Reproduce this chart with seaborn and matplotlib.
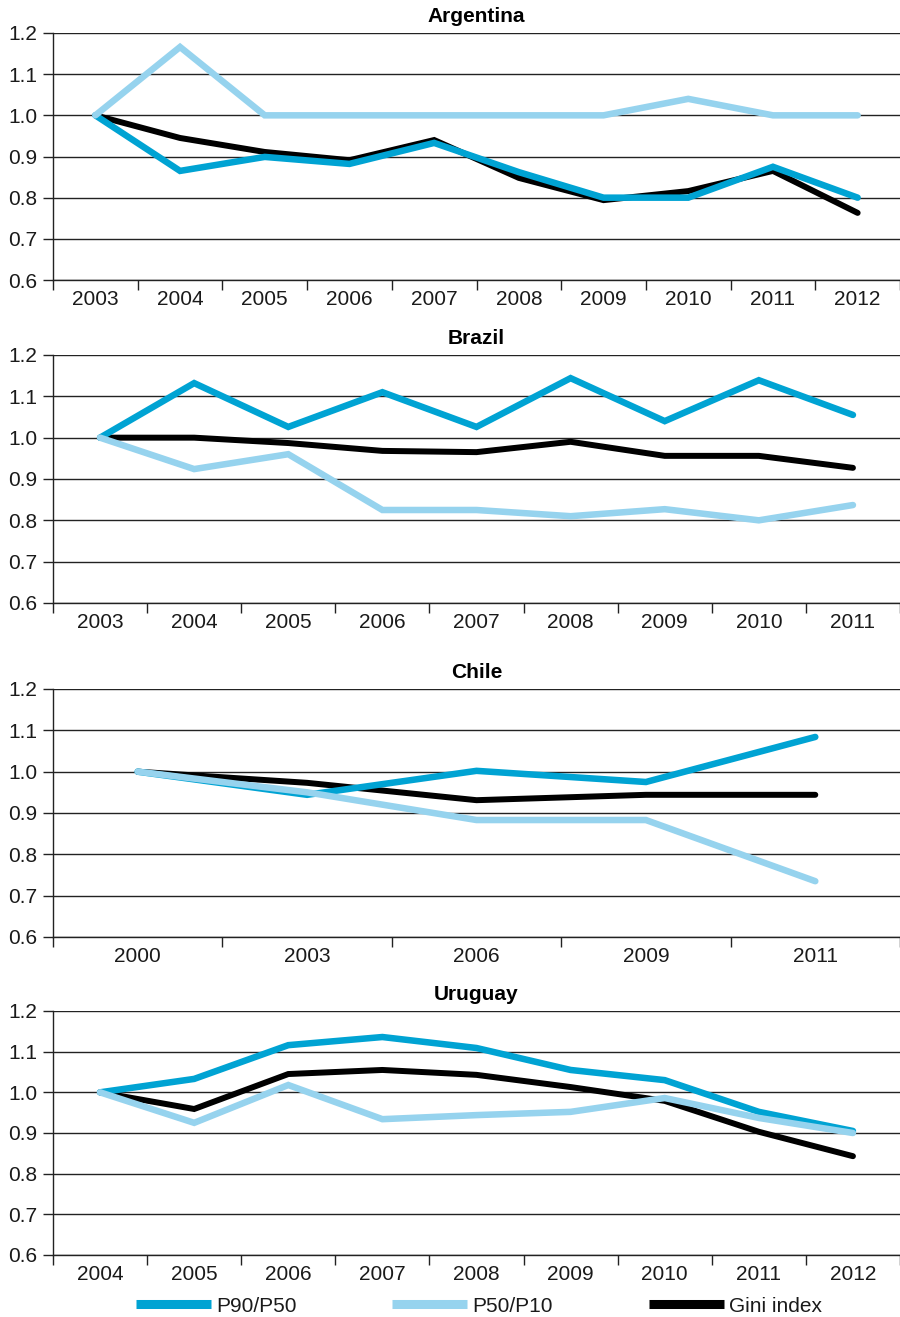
import numpy as np
import pandas as pd
import matplotlib
matplotlib.use("Agg")
import matplotlib.pyplot as plt
import seaborn as sns
from matplotlib.lines import Line2D

sns.set_theme(style="white")
plt.rcParams["font.family"] = ["Liberation Sans", "DejaVu Sans"]

SERIES = ["P90/P50", "P50/P10", "Gini index"]
DRAW_ORDER = ["Gini index", "P90/P50", "P50/P10"]
COLORS = {"P90/P50": "#00a3d3", "P50/P10": "#96d3ee", "Gini index": "#000000"}
TEXT = "#1a1a1a"

# Argentina
arg_years = ["2003", "2004", "2005", "2006", "2007", "2008", "2009", "2010", "2011", "2012"]
arg_p90_p50 = [1.00, 0.865, 0.899, 0.882, 0.933, 0.862, 0.800, 0.800, 0.875, 0.800]
arg_p50_p10 = [1.00, 1.166, 1.000, 1.000, 1.000, 1.000, 1.000, 1.040, 1.000, 1.000]
arg_gini = [1.00, 0.945, 0.911, 0.891, 0.940, 0.848, 0.794, 0.816, 0.865, 0.763]

# Brazil
bra_years = ["2003", "2004", "2005", "2006", "2007", "2008", "2009", "2010", "2011"]
bra_p90_p50 = [1.00, 1.132, 1.026, 1.110, 1.026, 1.144, 1.040, 1.139, 1.055]
bra_p50_p10 = [1.00, 0.924, 0.960, 0.825, 0.825, 0.810, 0.827, 0.800, 0.837]
bra_gini = [1.00, 1.000, 0.987, 0.968, 0.965, 0.990, 0.956, 0.956, 0.927]

# Chile
chl_years = ["2000", "2003", "2006", "2009", "2011"]
chl_p90_p50 = [1.00, 0.944, 1.002, 0.975, 1.084]
chl_p50_p10 = [1.00, 0.950, 0.883, 0.883, 0.735]
chl_gini = [1.00, 0.973, 0.931, 0.944, 0.944]

# Uruguay
ury_years = ["2004", "2005", "2006", "2007", "2008", "2009", "2010", "2011", "2012"]
ury_p90_p50 = [1.00, 1.033, 1.116, 1.136, 1.109, 1.055, 1.030, 0.952, 0.905]
ury_p50_p10 = [1.00, 0.925, 1.018, 0.934, 0.944, 0.952, 0.986, 0.937, 0.900]
ury_gini = [1.00, 0.959, 1.045, 1.055, 1.043, 1.013, 0.979, 0.903, 0.843]

countries = [
    ("Argentina", arg_years, arg_p90_p50, arg_p50_p10, arg_gini),
    ("Brazil", bra_years, bra_p90_p50, bra_p50_p10, bra_gini),
    ("Chile", chl_years, chl_p90_p50, chl_p50_p10, chl_gini),
    ("Uruguay", ury_years, ury_p90_p50, ury_p50_p10, ury_gini),
]

W, H = 900, 1317
fig = plt.figure(figsize=(W / 100, H / 100), dpi=100)

# panel top/bottom edges in pixels
panel_px = [(33, 280), (355, 603), (689, 937), (1011, 1255)]
left_px, right_px = 53, 900

yticks = [0.6, 0.7, 0.8, 0.9, 1.0, 1.1, 1.2]
FS = 15

for (name, years, p90, p50, gini), (top, bot) in zip(countries, panel_px):
    ax = fig.add_axes([left_px / W, 1 - bot / H, (right_px - left_px) / W, (bot - top) / H])
    n = len(years)
    df = pd.DataFrame({
        "pos": list(range(n)) * 3,
        "value": p90 + p50 + gini,
        "series": ["P90/P50"] * n + ["P50/P10"] * n + ["Gini index"] * n,
    })
    for s in DRAW_ORDER:
        sub = df[df["series"] == s]
        sns.lineplot(data=sub, x="pos", y="value", color=COLORS[s], ax=ax,
                     lw=4.7 if s != "Gini index" else 4.3, legend=False, sort=False,
                     solid_capstyle="round", solid_joinstyle="miter", zorder=3)

    ax.set_xlim(-0.5, n - 0.5)
    ax.set_ylim(0.6, 1.2)
    ax.set_yticks(yticks)
    ax.set_yticklabels([f"{v:.1f}" for v in yticks])
    ax.set_xticks(range(n))
    ax.set_xticklabels(years)
    ax.set_xticks(np.arange(-0.5, n, 1.0), minor=True)
    ax.set_xlabel("")
    ax.set_ylabel("")

    ax.yaxis.grid(True, color="#222222", lw=1.0)
    ax.xaxis.grid(False)
    ax.set_axisbelow(True)
    for side in ("top", "right"):
        ax.spines[side].set_visible(False)
    for side in ("left", "bottom"):
        ax.spines[side].set_visible(True)
        ax.spines[side].set_color("#222222")
        ax.spines[side].set_linewidth(1.0)

    ax.tick_params(axis="y", which="major", length=7, width=1.0, direction="out",
                   color="#222222", pad=4, labelsize=FS, labelcolor=TEXT, left=True)
    ax.tick_params(axis="x", which="major", length=0, pad=7, labelsize=FS,
                   labelcolor=TEXT, bottom=True)
    ax.tick_params(axis="x", which="minor", length=7.5, width=1.0, direction="out",
                   color="#222222", bottom=True)
    ax.set_title(name, fontsize=FS, fontweight="bold", color="#000000", pad=8)

handles = [Line2D([0], [0], color=COLORS[s], lw=6.5, solid_capstyle="butt") for s in SERIES]
fig.legend(handles, SERIES, loc="center", bbox_to_anchor=(479 / W, 1 - 1306 / H),
           ncol=3, frameon=False, fontsize=FS, handlelength=3.6, handletextpad=0.25,
           columnspacing=4.6, labelcolor=TEXT)

fig.savefig("out.png", dpi=100)
